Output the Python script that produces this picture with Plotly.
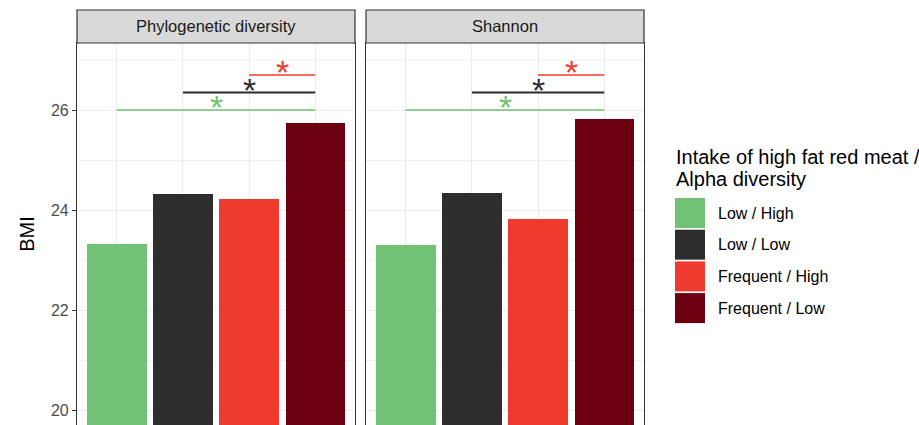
import plotly.graph_objects as go

# ---- data ----
groups = ["Low / High", "Low / Low", "Frequent / High", "Frequent / Low"]
colors = ["#71C274", "#2D2D2D", "#EE3B2E", "#6A0010"]
panels = ["Phylogenetic diversity", "Shannon"]
pd_bmi = [23.33, 24.32, 24.22, 25.75]
shannon_bmi = [23.30, 24.34, 23.82, 25.82]
# significance brackets: (from group index, to group index, y, colour index)
brackets = [(1, 4, 26.0, 0), (2, 4, 26.35, 1), (3, 4, 26.7, 2)]
star_offset = 0.18
y_ticks = [20, 22, 24, 26]

FONT = "Liberation Sans, Arial, Helvetica, sans-serif"
x_pos = list(range(1, len(groups) + 1))

fig = go.Figure()
values_by_panel = [pd_bmi, shannon_bmi]
axes = [("x", "y"), ("x2", "y2")]

for p, vals in enumerate(values_by_panel):
    xa, ya = axes[p]
    for i, g in enumerate(groups):
        fig.add_trace(go.Bar(x=[x_pos[i]], y=[vals[i]], marker=dict(color=colors[i], line=dict(width=0)),
                             width=0.9, name=g, showlegend=False, xaxis=xa, yaxis=ya))
    for (a, b, yv, ci) in brackets:
        fig.add_trace(go.Scatter(x=[a, b], y=[yv, yv], mode="lines",
                                 line=dict(color=colors[ci], width=2.2 if ci == 1 else 1.6),
                                 showlegend=False, hoverinfo="skip", xaxis=xa, yaxis=ya))
        fig.add_annotation(x=(a + b) / 2, y=yv + star_offset, text="*", showarrow=False,
                           xref=xa, yref=ya, yanchor="middle", xanchor="center", yshift=-6,
                           font=dict(family=FONT, size=34, color=colors[ci]))

common_x = dict(range=[0.4, 4.6], tickvals=x_pos, showticklabels=False, ticks="",
                showgrid=True, gridcolor="#EBEBEB", gridwidth=1.3, zeroline=False,
                showline=True, linecolor="#333333", linewidth=1.2, mirror=True, fixedrange=True)
common_y = dict(range=[19.7, 27.34], tickvals=y_ticks, showgrid=True, gridcolor="#EBEBEB",
                gridwidth=1.3, zeroline=False, showline=True, linecolor="#333333", linewidth=1.2,
                mirror=True, ticklen=4, tickcolor="#333333",
                tickfont=dict(family=FONT, size=16, color="#4D4D4D"),
                minor=dict(dtick=1, tick0=21, showgrid=True, gridcolor="#F0F0F0", gridwidth=1, ticks=""))

d1 = 278 / 567
d2 = 289 / 567
fig.update_layout(
    width=919, height=425,
    margin=dict(l=77, r=275, t=43, b=0, autoexpand=False),
    plot_bgcolor="white", paper_bgcolor="white",
    xaxis=dict(domain=[0, d1], **common_x),
    xaxis2=dict(domain=[d2, 1], **common_x),
    yaxis=dict(anchor="x", ticks="outside",
               title=dict(text="BMI", font=dict(family=FONT, size=20, color="black"), standoff=10),
               **common_y),
    yaxis2=dict(anchor="x2", showticklabels=False, ticks="", **common_y),
    showlegend=False, bargap=0,
)

# facet strips
strip_h = 33 / 382
for p, (x0, x1) in enumerate([(0, d1), (d2, 1)]):
    fig.add_shape(type="rect", xref="paper", yref="paper", x0=x0, x1=x1, y0=1, y1=1 + strip_h,
                  fillcolor="#D9D9D9", line=dict(color="#333333", width=1.2))
    fig.add_annotation(xref="paper", yref="paper", x=(x0 + x1) / 2, y=1 + strip_h / 2,
                       text=panels[p], showarrow=False, yanchor="middle", xanchor="center",
                       font=dict(family=FONT, size=16.5, color="#1A1A1A"))

# manual legend (ggplot style keys)
def px_x(px):
    return (px - 77) / 567

def px_y(py):
    return (425 - py) / 382

fig.add_annotation(xref="paper", yref="paper", x=px_x(674), y=px_y(157), xanchor="left", yanchor="middle",
                   text="Intake of high fat red meat /", showarrow=False,
                   font=dict(family=FONT, size=20, color="black"))
fig.add_annotation(xref="paper", yref="paper", x=px_x(674), y=px_y(179), xanchor="left", yanchor="middle",
                   text="Alpha diversity", showarrow=False,
                   font=dict(family=FONT, size=20, color="black"))
key_top = 198
key_step = 31.7
for i, g in enumerate(groups):
    t = key_top + i * key_step
    fig.add_shape(type="rect", xref="paper", yref="paper", x0=px_x(675), x1=px_x(705),
                  y0=px_y(t + 30), y1=px_y(t), fillcolor=colors[i], line=dict(width=0))
    fig.add_annotation(xref="paper", yref="paper", x=px_x(716), y=px_y(t + 15), xanchor="left",
                       yanchor="middle", text=g, showarrow=False,
                       font=dict(family=FONT, size=16, color="black"))

fig.write_html("out.html", config={"displayModeBar": False},
               post_script="document.body.style.margin='0';")
